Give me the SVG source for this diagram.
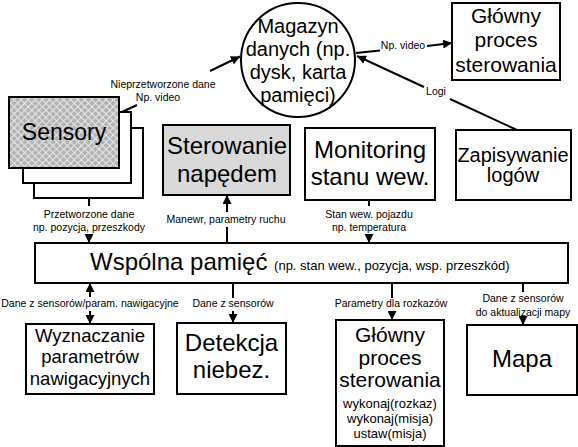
<svg xmlns="http://www.w3.org/2000/svg" width="578" height="447" viewBox="0 0 578 447">
<defs>
<pattern id="hatch" width="5" height="5" patternUnits="userSpaceOnUse" patternTransform="rotate(45)">
<rect width="5" height="5" fill="#b4b4b4"/>
<path d="M0,0.5 H5 M0.5,0 V5" stroke="#e6e6e6" stroke-width="1"/>
</pattern>
<marker id="arr" viewBox="0 0 10 10" refX="10" refY="5" markerWidth="9" markerHeight="9" markerUnits="userSpaceOnUse" orient="auto">
<path d="M0,0 L10,5 L0,10 Z" fill="#000"/>
</marker>
<style>
.box{fill:#fff;stroke:#000;stroke-width:2}
.t{font-family:"Liberation Sans",Arial,sans-serif;fill:#000;text-anchor:middle}
.big{font-size:24px}
.mid{font-size:21px}
.s{font-size:10.5px}
.c{fill:none;stroke:#000;stroke-width:2}
</style>
</defs>

<g id="connectors">
<path class="c" d="M122,112 L137,105 M210,71 L240,56.5" marker-end="url(#arr)"/>
<path class="c" d="M356,53 L380,50.5 M427,46 L452,43" marker-end="url(#arr)"/>
<path class="c" d="M517,130 L450,99 M424,87 L357,56" marker-end="url(#arr)"/>
<path class="c" d="M89,198 V206 M89,234 V243" marker-end="url(#arr)"/>
<path class="c" d="M227,243 V227 M227,212 V195" marker-end="url(#arr)"/>
<path class="c" d="M369,200 V206 M369,234 V243" marker-end="url(#arr)"/>
<path class="c" d="M90,297 V283" marker-end="url(#arr)"/>
<path class="c" d="M90,311 V324" marker-end="url(#arr)"/>
<path class="c" d="M233,283 V298 M233,311 V323" marker-end="url(#arr)"/>
<path class="c" d="M392,283 V298 M392,311 V320" marker-end="url(#arr)"/>
<path class="c" d="M523,283 V292 M523,318 V325" marker-end="url(#arr)"/>
<text class="t s" x="163" y="88">Nieprzetworzone dane</text>
<text class="t s" x="158" y="101">Np. video</text>
<text class="t s" x="403" y="49">Np. video</text>
<text class="t s" x="436" y="95">Logi</text>
<text class="t s" x="89" y="218">Przetworzone dane</text>
<text class="t s" x="89" y="231">np. pozycja, przeszkody</text>
<text class="t s" x="226" y="223">Manewr, parametry ruchu</text>
<text class="t s" x="369" y="218">Stan wew. pojazdu</text>
<text class="t s" x="369" y="231">np. temperatura</text>
<text class="t s" x="90" y="307">Dane z sensorów/param. nawigacyjne</text>
<text class="t s" x="233" y="307">Dane z sensorów</text>
<text class="t s" x="391" y="307">Parametry dla rozkazów</text>
<text class="t s" x="523" y="302">Dane z sensorów</text>
<text class="t s" x="523" y="316">do aktualizacji mapy</text>
</g>

<g id="magazyn">
<circle cx="298" cy="60" r="57" class="box" stroke-width="1.5"/>
<text class="t" font-size="20" x="298" y="33">Magazyn</text>
<text class="t" font-size="20" x="298" y="56">danych (np.</text>
<text class="t" font-size="20" x="298" y="79">dysk, karta</text>
<text class="t" font-size="20" x="298" y="102">pamięci)</text>
</g>

<g id="glowny-top">
<rect class="box" x="452" y="3" width="108" height="77"/>
<text class="t mid" x="506" y="23">Główny</text>
<text class="t mid" x="506" y="47">proces</text>
<text class="t mid" x="506" y="72">sterowania</text>
</g>

<g id="sensory">
<rect class="box" x="34" y="128" width="109" height="70"/>
<rect class="box" x="23" y="112" width="108" height="71"/>
<rect x="9" y="97" width="110" height="71" fill="url(#hatch)" stroke="#000" stroke-width="2"/>
<text class="t" font-size="23" x="64" y="140">Sensory</text>
</g>

<g id="sterowanie">
<rect x="163" y="125" width="127" height="70" fill="#d9d9d9" stroke="#000" stroke-width="2"/>
<text class="t big" x="227" y="154">Sterowanie</text>
<text class="t big" x="227" y="182">napędem</text>
</g>

<g id="monitoring">
<rect class="box" x="305" y="128" width="130" height="72"/>
<text class="t big" x="370" y="158">Monitoring</text>
<text class="t big" x="370" y="185">stanu wew.</text>
</g>

<g id="zapisywanie">
<rect class="box" x="456" y="130" width="115" height="70"/>
<text class="t" font-size="20" x="513" y="162">Zapisywanie</text>
<text class="t" font-size="20" x="513" y="182">logów</text>
</g>

<g id="wspolna">
<rect class="box" x="35" y="243" width="533" height="40"/>
<text font-family="Liberation Sans, Arial, sans-serif" x="90" y="270"><tspan font-size="24">Wspólna pamięć </tspan><tspan font-size="13">(np. stan wew., pozycja, wsp. przeszkód)</tspan></text>
</g>

<g id="wyznaczanie">
<rect class="box" x="26" y="324" width="128" height="70"/>
<text class="t" font-size="18.5" x="90" y="342">Wyznaczanie</text>
<text class="t" font-size="18.5" x="90" y="363">parametrów</text>
<text class="t" font-size="18.5" x="90" y="385">nawigacyjnych</text>
</g>

<g id="detekcja">
<rect class="box" x="177" y="323" width="109" height="71"/>
<text class="t big" x="231.5" y="351">Detekcja</text>
<text class="t big" x="231.5" y="378">niebez.</text>
</g>

<g id="glowny-bottom">
<rect class="box" x="336" y="320" width="108" height="126"/>
<text class="t mid" x="390" y="342">Główny</text>
<text class="t mid" x="390" y="365">proces</text>
<text class="t mid" x="390" y="387">sterowania</text>
<text class="t" font-size="13" x="390" y="408">wykonaj(rozkaz)</text>
<text class="t" font-size="13" x="390" y="423">wykonaj(misja)</text>
<text class="t" font-size="13" x="390" y="438">ustaw(misja)</text>
</g>

<g id="mapa">
<rect class="box" x="467" y="325" width="110" height="70"/>
<text class="t big" x="522" y="367">Mapa</text>
</g>
</svg>
